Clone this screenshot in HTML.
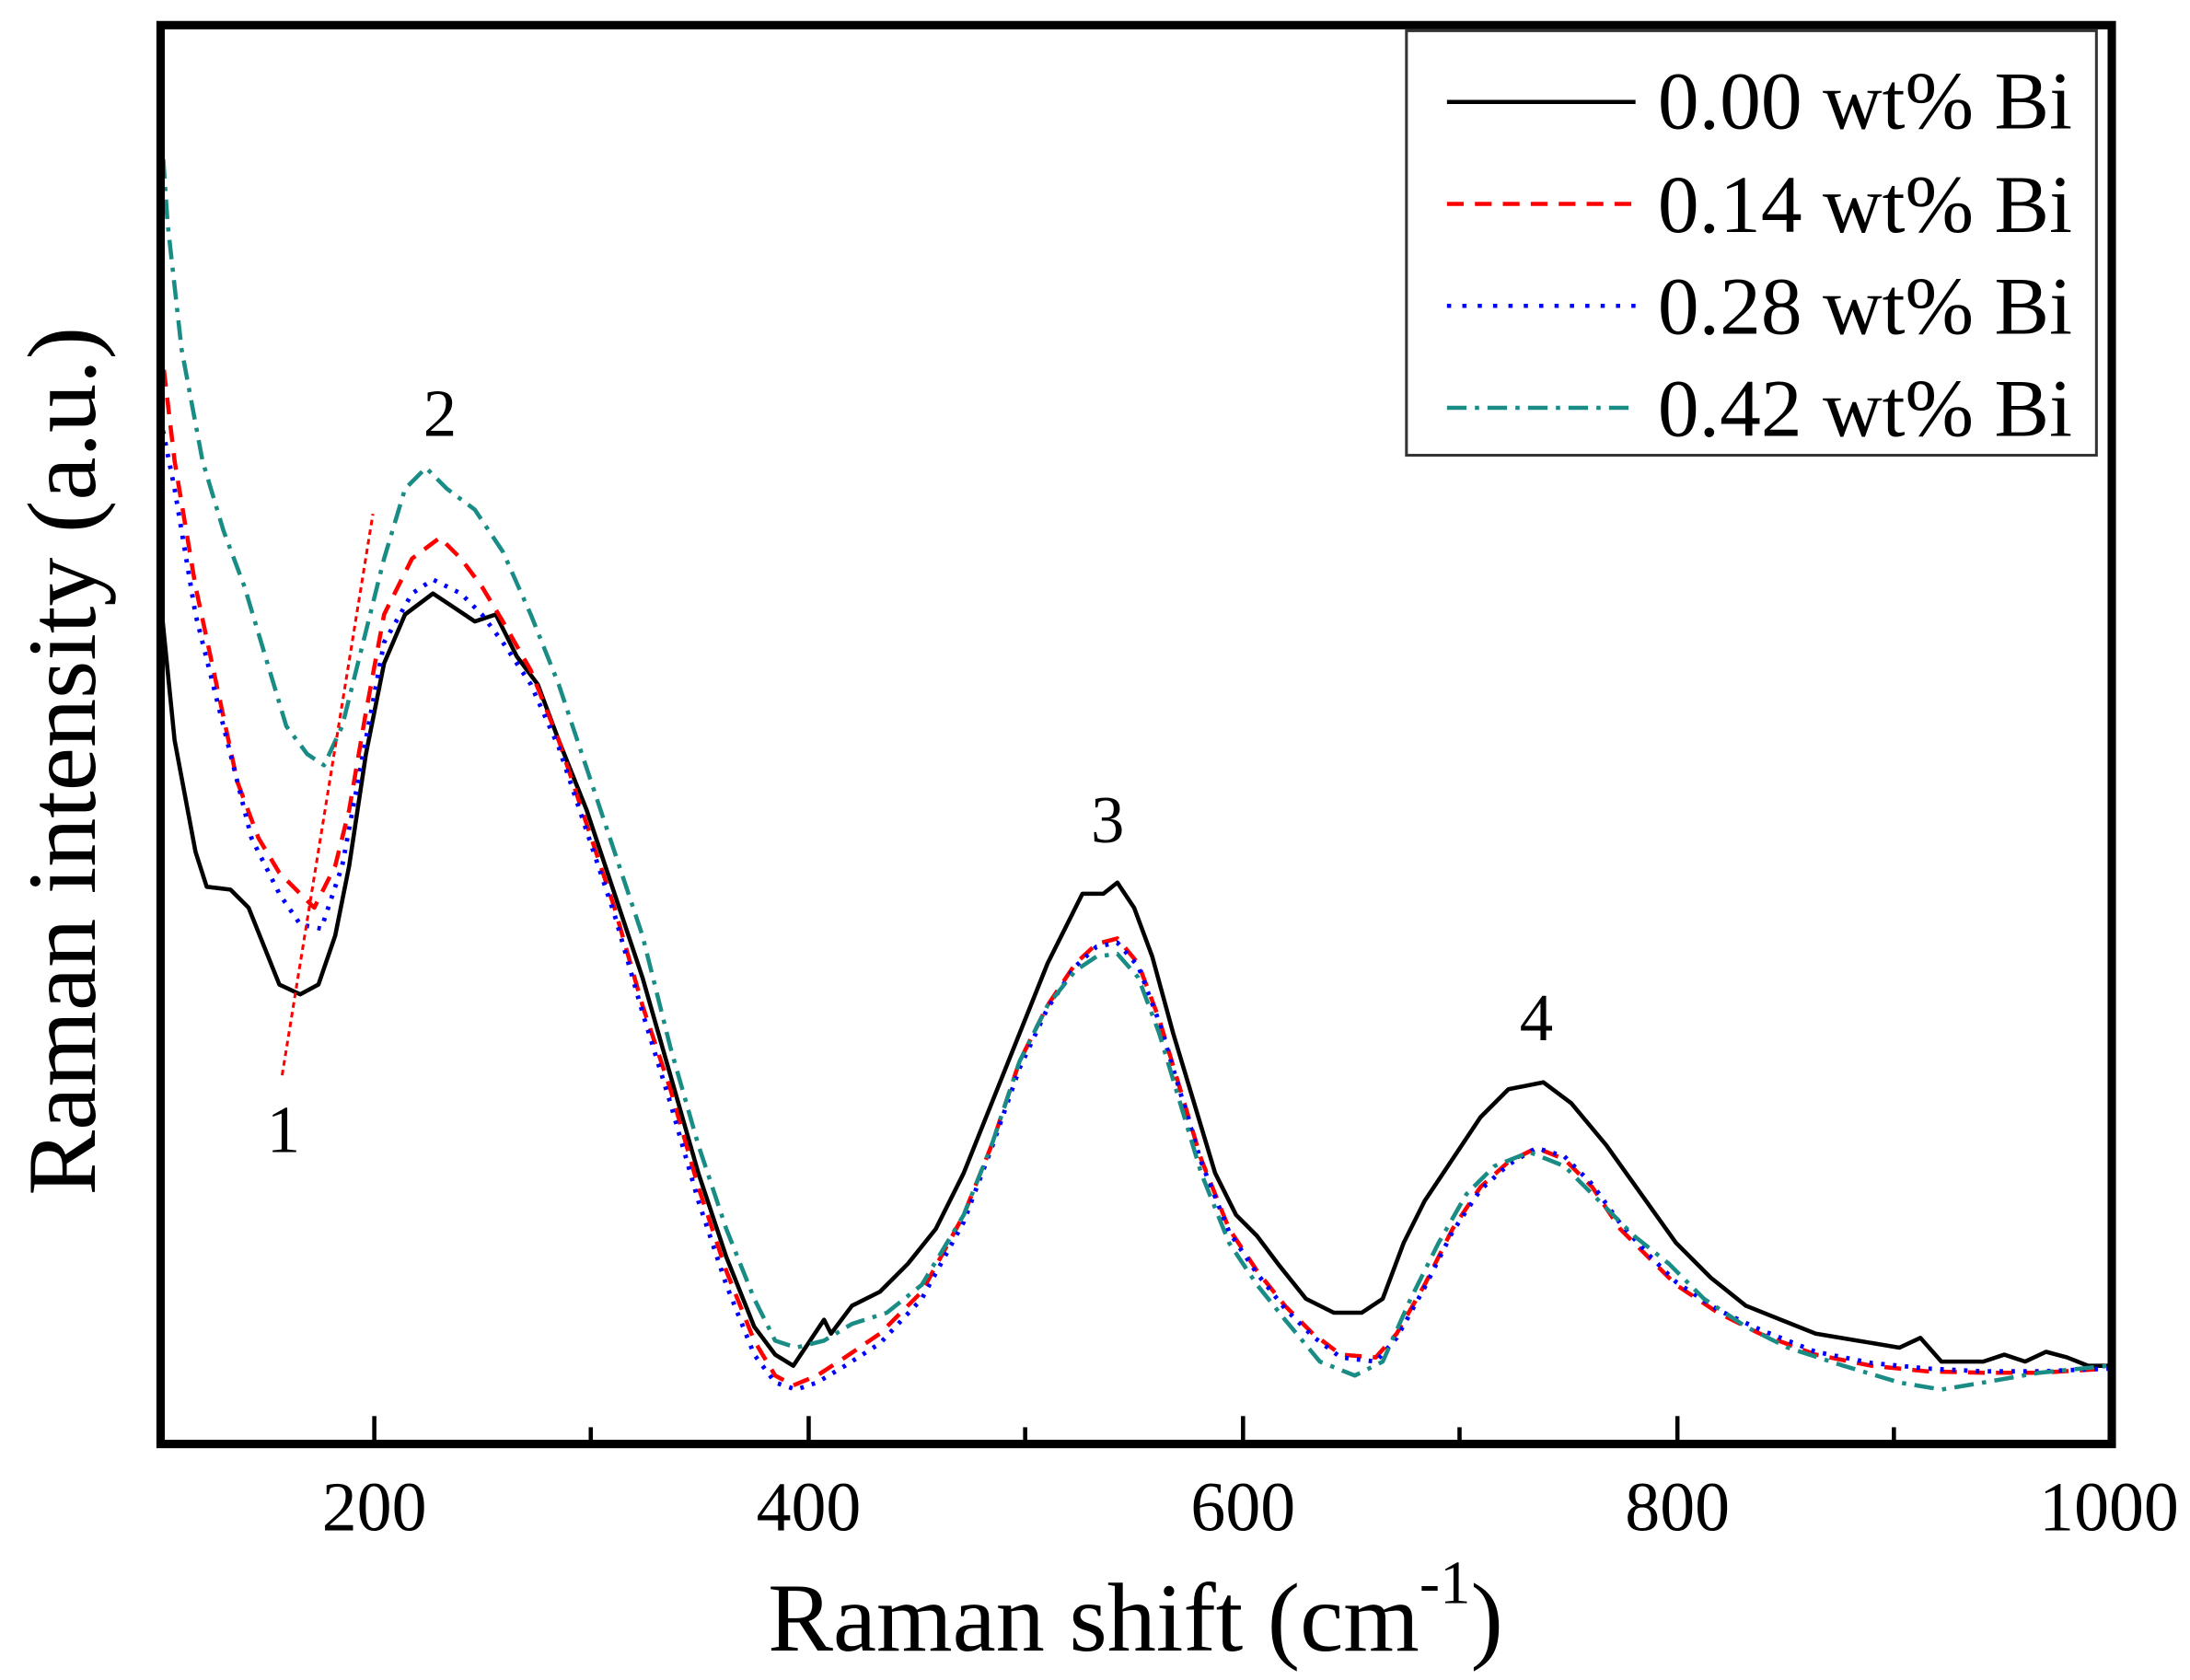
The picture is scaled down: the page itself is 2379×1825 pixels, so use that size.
<!DOCTYPE html>
<html><head><meta charset="utf-8"><style>
html,body{margin:0;padding:0;background:#fff;}
svg{display:block;}
text{font-family:"Liberation Serif",serif;fill:#000;}
</style></head><body>
<svg width="2379" height="1825" viewBox="0 0 1568 1203" preserveAspectRatio="none" xmlns="http://www.w3.org/2000/svg">
<rect width="1568" height="1203" fill="#fff"/>
<g fill="none" stroke-width="3" stroke-linejoin="round">
<polyline stroke="#000" points="115,430 125,530 140,610 148,635 165,637 178,650 190,680 200,705 215,712 228,705 240,670 250,620 262,540 275,475 290,440 310,425 325,435 340,445 355,440 370,470 385,490 400,530 420,580 440,640 460,700 480,770 500,840 520,900 540,950 555,970 568,978 580,960 590,945 595,955 610,935 630,925 650,905 670,880 690,840 710,790 730,740 750,690 765,660 775,640 790,640 800,632 812,650 825,685 840,740 855,790 870,840 885,870 900,885 915,905 935,930 955,940 975,940 990,930 1005,890 1020,860 1040,830 1060,800 1080,780 1105,775 1125,790 1150,820 1175,855 1200,890 1225,915 1250,935 1275,945 1300,955 1330,960 1360,965 1375,958 1390,975 1420,975 1435,970 1450,975 1465,968 1480,972 1495,978 1510,978"/>
<polyline stroke="#ff0000" stroke-dasharray="12,8" points="115,245 125,330 140,420 155,490 170,560 185,600 200,625 215,640 225,650 240,620 250,580 262,510 275,440 295,400 315,385 330,400 345,420 360,445 380,480 400,530 420,590 440,650 460,720 480,780 500,850 520,910 540,960 555,985 568,992 585,985 605,972 630,955 660,925 690,870 710,820 730,760 750,720 770,690 785,676 800,672 815,690 830,730 845,780 860,830 880,880 900,910 920,935 940,955 960,970 985,972 1000,955 1020,920 1040,880 1060,850 1080,832 1100,822 1120,830 1140,850 1160,880 1180,900 1200,920 1230,940 1260,955 1300,970 1340,978 1380,982 1420,983 1460,983 1510,980"/>
<polyline stroke="#0000ff" stroke-dasharray="2.5,6" stroke-width="3.2" points="115,300 125,350 140,440 160,520 180,600 200,640 215,662 230,665 245,620 260,540 275,460 295,425 310,415 330,425 345,440 360,460 380,490 400,535 420,595 440,655 460,725 480,790 500,860 520,920 540,970 555,990 570,995 585,990 605,978 630,962 660,930 690,875 710,822 730,765 750,722 770,692 785,678 800,675 815,692 830,732 845,782 860,832 880,882 900,912 920,937 940,957 960,972 985,975 1000,958 1020,922 1040,882 1060,852 1080,834 1100,822 1120,828 1140,848 1160,876 1180,898 1200,918 1230,938 1260,952 1300,968 1340,976 1380,980 1420,982 1460,982 1510,980"/>
<polyline stroke="#1a8c86" stroke-dasharray="14,6,3,6" points="115,85 120,160 130,250 145,330 160,380 175,420 190,470 205,520 220,540 232,548 245,520 260,460 275,400 290,350 305,335 320,350 340,365 360,395 380,440 400,490 420,550 440,610 460,670 480,750 500,820 520,880 540,930 555,960 570,965 590,960 610,948 635,940 660,920 690,870 710,820 730,760 750,720 770,695 785,685 800,683 815,700 830,740 845,790 860,840 880,890 900,920 920,945 945,975 970,985 990,975 1010,930 1030,890 1050,855 1070,835 1095,825 1120,835 1145,860 1170,885 1195,905 1220,930 1250,950 1280,965 1320,978 1360,990 1390,995 1420,990 1460,983 1510,978"/>
<line x1="202" y1="770" x2="267" y2="368" stroke="#ff0000" stroke-width="2" stroke-dasharray="4,3"/>
</g>
<rect x="115" y="18" width="1397" height="1016" fill="none" stroke="#000" stroke-width="6"/>
<g stroke="#000" stroke-width="3">
<line x1="268" y1="1034" x2="268" y2="1014"/><line x1="579" y1="1034" x2="579" y2="1014"/>
<line x1="890" y1="1034" x2="890" y2="1014"/><line x1="1201" y1="1034" x2="1201" y2="1014"/>
<line x1="423" y1="1034" x2="423" y2="1022"/><line x1="734" y1="1034" x2="734" y2="1022"/>
<line x1="1045" y1="1034" x2="1045" y2="1022"/><line x1="1356" y1="1034" x2="1356" y2="1022"/>
</g>
<g font-size="50" text-anchor="middle">
<text x="268" y="1096">200</text><text x="579" y="1096">400</text><text x="890" y="1096">600</text><text x="1201" y="1096">800</text><text x="1510" y="1096">1000</text>
</g>
<text x="813" y="1182" font-size="70" text-anchor="middle">Raman shift (cm<tspan font-size="44" dy="-34">-1</tspan><tspan dy="34">)</tspan></text>
<text transform="translate(68,545) rotate(-90)" font-size="70" text-anchor="middle">Raman intensity (a.u.)</text>
<g font-size="48" text-anchor="middle">
<text x="203" y="825">1</text><text x="315" y="312">2</text><text x="793" y="603">3</text><text x="1100" y="745">4</text>
</g>
<rect x="1007" y="22" width="494" height="304" fill="#fff" stroke="#333" stroke-width="2"/>
<g fill="none" stroke-width="3">
<line x1="1036" y1="73" x2="1171" y2="73" stroke="#000"/>
<line x1="1036" y1="146" x2="1171" y2="146" stroke="#ff0000" stroke-dasharray="12,8"/>
<line x1="1036" y1="219" x2="1171" y2="219" stroke="#0000ff" stroke-dasharray="3,8"/>
<line x1="1036" y1="292" x2="1171" y2="292" stroke="#1a8c86" stroke-dasharray="14,6,3,6"/>
</g>
<g font-size="59">
<text x="1187" y="92">0.00 wt% Bi</text>
<text x="1187" y="166">0.14 wt% Bi</text>
<text x="1187" y="239">0.28 wt% Bi</text>
<text x="1187" y="312">0.42 wt% Bi</text>
</g>
</svg>
</body></html>
